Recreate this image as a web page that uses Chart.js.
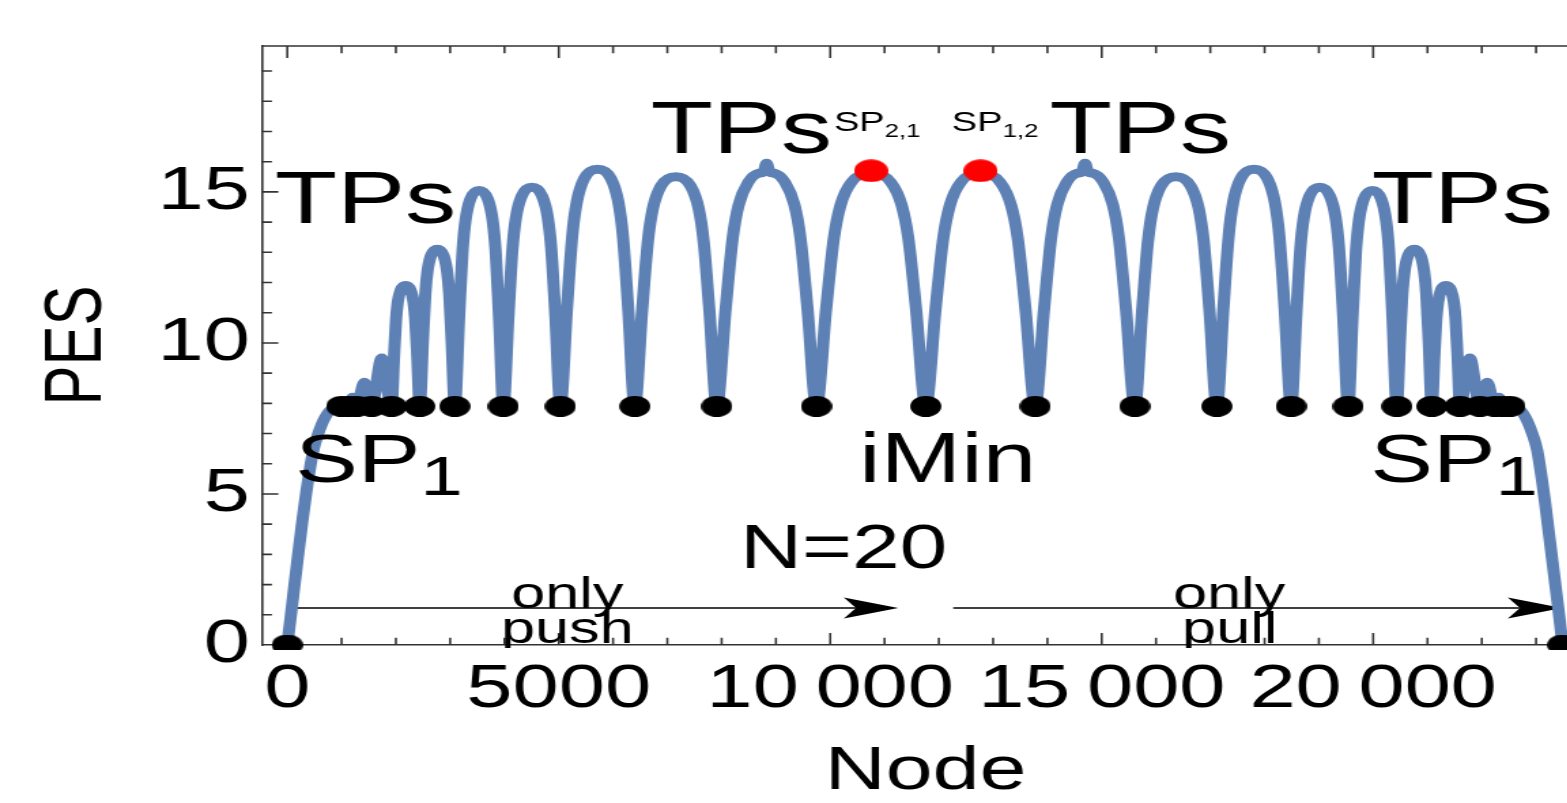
<!DOCTYPE html>
<html>
<head>
<meta charset="utf-8">
<script src="https://cdn.jsdelivr.net/npm/chart.js@4.4.1/dist/chart.umd.min.js"></script>
<style>
  html, body { margin: 0; padding: 0; background: #fff; overflow: hidden; }
  #wrap { width: 1567px; height: 803px; overflow: hidden; position: relative; }
</style>
</head>
<body>
<!-- drawn narrow, shown wide: the original figure is stretched horizontally,
     and its right frame edge is cut off, so the canvas runs past the window -->
<div id="wrap">
<canvas id="chart" width="1168" height="803" style="width:1589px;height:803px"></canvas>
</div>
<script>
const fontFamily = "'Liberation Sans', Arial, Helvetica, sans-serif";
const frameColor = "#333";

// PES along the path (node index, energy)
const curveNodes = [
  0, 330, 480, 570, 700, 850,
  1000, 1065, 1130, 1205, 1280, 1420, 1555, 1740,
  1920, 1967, 2003, 2034, 2086, 2180, 2274, 2326, 2357, 2393,
  2440, 2498, 2543, 2582, 2646, 2763, 2879, 2943, 2982, 3027,
  3085, 3166, 3228, 3282, 3371, 3533, 3694, 3783, 3837, 3899,
  3980, 4075, 4148, 4211, 4316, 4505, 4694, 4799, 4862, 4936,
  5030, 5153, 5249, 5331, 5468, 5715, 5962, 6099, 6181, 6277,
  6400, 6536, 6642, 6732, 6883, 7155, 7427, 7578, 7668, 7774,
  7910, 8075, 8204, 8314, 8497, 8681, 8773, 8828, 8883, 8974, 9158, 9341, 9451, 9580,
  9745, 9926, 10067, 10188, 10390, 10753, 11115, 11317, 11438, 11579,
  11760, 11941, 12082, 12203, 12405, 12768, 13130, 13332, 13453, 13594,
  13775, 13940, 14069, 14179, 14362, 14546, 14638, 14693, 14748, 14839, 15023, 15206, 15316, 15445,
  15610, 15746, 15852, 15942, 16093, 16365, 16637, 16788, 16878, 16984,
  17120, 17243, 17339, 17421, 17558, 17805, 18052, 18189, 18271, 18367,
  18490, 18585, 18658, 18721, 18826, 19015, 19204, 19309, 19372, 19446,
  19540, 19621, 19683, 19737, 19826, 19988, 20149, 20238, 20292, 20354,
  20435, 20493, 20538, 20577, 20641, 20758, 20874, 20938, 20977, 21022,
  21080, 21127, 21163, 21194, 21246, 21340, 21434, 21486, 21517, 21553,
  21600, 21780, 21965, 22100, 22240, 22315, 22390, 22455,
  22520, 22660, 22800, 22930, 23020, 23160, 23490
];
const curvePES = [
  0, 4.8, 6.45, 7.0, 7.55, 7.85,
  7.9, 8.0, 7.9, 8.2, 7.9, 8.7, 7.9, 9.5,
  7.9, 9.58, 10.78, 11.34, 11.74, 11.9, 11.74, 11.34, 10.78, 9.58,
  7.9, 10.08, 11.64, 12.37, 12.89, 13.1, 12.89, 12.37, 11.64, 10.08,
  7.9, 10.9, 13.05, 14.05, 14.76, 15.05, 14.76, 14.05, 13.05, 10.9,
  7.9, 10.95, 13.12, 14.14, 14.86, 15.15, 14.86, 14.14, 13.12, 10.95,
  7.9, 11.2, 13.55, 14.65, 15.44, 15.75, 15.44, 14.65, 13.55, 11.2,
  7.9, 11.09, 13.37, 14.44, 15.2, 15.5, 15.2, 14.44, 13.37, 11.09,
  7.9, 11.16, 13.48, 14.57, 15.34, 15.62, 15.66, 15.95, 15.66, 15.62, 15.34, 14.57, 13.48, 11.16,
  7.9, 11.15, 13.47, 14.55, 15.32, 15.63, 15.32, 14.55, 13.47, 11.15,
  7.9, 11.15, 13.47, 14.55, 15.32, 15.63, 15.32, 14.55, 13.47, 11.15,
  7.9, 11.16, 13.48, 14.57, 15.34, 15.62, 15.66, 15.95, 15.66, 15.62, 15.34, 14.57, 13.48, 11.16,
  7.9, 11.09, 13.37, 14.44, 15.2, 15.5, 15.2, 14.44, 13.37, 11.09,
  7.9, 11.2, 13.55, 14.65, 15.44, 15.75, 15.44, 14.65, 13.55, 11.2,
  7.9, 10.95, 13.12, 14.14, 14.86, 15.15, 14.86, 14.14, 13.12, 10.95,
  7.9, 10.9, 13.05, 14.05, 14.76, 15.05, 14.76, 14.05, 13.05, 10.9,
  7.9, 10.08, 11.64, 12.37, 12.89, 13.1, 12.89, 12.37, 11.64, 10.08,
  7.9, 9.58, 10.78, 11.34, 11.74, 11.9, 11.74, 11.34, 10.78, 9.58,
  7.9, 9.5, 7.9, 8.7, 7.9, 8.2, 7.9, 8.0,
  7.9, 7.85, 7.55, 7.0, 6.45, 4.8, 0
];

// minima (black) and the two saddle points (red)
const minimumNodes = [0, 1000, 1130, 1280, 1555, 1920, 2440, 3085, 3980, 5030, 6400, 7910, 9745,
  11760, 13775, 15610, 17120, 18490, 19540, 20435, 21080, 21600, 21965, 22240, 22390, 22520, 23490];
const minimumPES = [0, 7.9, 7.9, 7.9, 7.9, 7.9, 7.9, 7.9, 7.9, 7.9, 7.9, 7.9, 7.9,
  7.9, 7.9, 7.9, 7.9, 7.9, 7.9, 7.9, 7.9, 7.9, 7.9, 7.9, 7.9, 7.9, 0];
const saddleNodes = [10753, 12768];
const saddlePES = [15.7, 15.7];

const xTickValues = [0, 5000, 10000, 15000, 20000];
const xTickLabels = ["0", "5000", "10\u2009000", "15\u2009000", "20\u2009000"];
const yTickValues = [0, 5, 10, 15];

// text placed in data coordinates
const labels = [
  { text: "TPs", node: 1440, pes: 13.97, size: 75, align: "center" },
  { text: "TPs", node: 8360, pes: 16.29, size: 75, align: "center" },
  { text: "TPs", node: 15710, pes: 16.29, size: 75, align: "center" },
  { text: "TPs", node: 21640, pes: 13.97, size: 75, align: "center" },
  { text: "SP", sub: "2,1", node: 10066, pes: 17.0, size: 28, subSize: 19, drop: 6, align: "left" },
  { text: "SP", sub: "1,2", node: 12239, pes: 17.0, size: 28, subSize: 19, drop: 6, align: "left" },
  { text: "SP", sub: "1", node: 147, pes: 5.4, size: 69, subSize: 56, drop: 13, align: "left" },
  { text: "SP", sub: "1", node: 19945, pes: 5.4, size: 69, subSize: 56, drop: 13, align: "left" },
  { text: "iMin", node: 12164, pes: 5.38, size: 71, align: "center" },
  { text: "N=20", node: 10249, pes: 2.55, size: 63, align: "center" },
  { text: "only", node: 5157, pes: 1.225, size: 45, align: "center" },
  { text: "push", node: 5157, pes: 0.066, size: 45, align: "center", clip: true },
  { text: "only", node: 17348, pes: 1.225, size: 45, align: "center" },
  { text: "pull", node: 17357, pes: 0.066, size: 45, align: "center", clip: true }
];
const arrows = [
  { from: 37, to: 11252, at: 1.225 },
  { from: 12265, to: 23481, at: 1.225 }
];

const toPoints = (xs, ys) => xs.map((v, i) => ({ x: v, y: ys[i] }));

// the dots in the figure are slightly wider than the stretch alone gives
function ellipseMark(rx, ry, color) {
  const c = document.createElement("canvas");
  c.width = Math.ceil(rx * 2);
  c.height = Math.ceil(ry * 2);
  const g = c.getContext("2d");
  g.fillStyle = color;
  g.beginPath();
  g.ellipse(c.width / 2, c.height / 2, rx, ry, 0, 0, Math.PI * 2);
  g.fill();
  return c;
}

const decorations = {
  id: "decorations",
  beforeDatasetsDraw(chart) {
    const { ctx, chartArea: a, scales: { x, y } } = chart;
    ctx.save();
    ctx.strokeStyle = frameColor;
    ctx.lineWidth = 1.6;
    ctx.beginPath();
    ctx.moveTo(a.left, a.top);
    ctx.lineTo(a.right, a.top);
    for (let v = 0; v <= x.max; v += 1000) {
      const px = x.getPixelForValue(v);
      const len = v % 5000 === 0 ? 12 : 7.3;
      ctx.moveTo(px, a.bottom);
      ctx.lineTo(px, a.bottom - len);
      ctx.moveTo(px, a.top);
      ctx.lineTo(px, a.top + len);
    }
    for (let v = 1; v <= y.max; v += 1) {
      const py = y.getPixelForValue(v);
      const len = v % 5 === 0 ? 12 : 7.3;
      ctx.moveTo(a.left, py);
      ctx.lineTo(a.left + len, py);
    }
    ctx.stroke();

    // arrows
    ctx.strokeStyle = "#000";
    ctx.fillStyle = "#000";
    ctx.lineWidth = 1.6;
    arrows.forEach(ar => {
      const x0 = x.getPixelForValue(ar.from);
      const x1 = x.getPixelForValue(ar.to);
      const yy = y.getPixelForValue(ar.at);
      const L = 40, h = 10.5, notch = 9;
      ctx.beginPath();
      ctx.moveTo(x0, yy);
      ctx.lineTo(x1 - L + notch, yy);
      ctx.stroke();
      ctx.beginPath();
      ctx.moveTo(x1, yy);
      ctx.lineTo(x1 - L, yy - h);
      ctx.lineTo(x1 - L + notch, yy);
      ctx.lineTo(x1 - L, yy + h);
      ctx.closePath();
      ctx.fill();
    });
    ctx.restore();
  },
  afterDatasetsDraw(chart) {
    const { ctx, chartArea: a, scales: { x, y } } = chart;
    ctx.save();
    ctx.fillStyle = "#000";
    ctx.textBaseline = "alphabetic";
    labels.forEach(l => {
      ctx.save();
      if (l.clip) {
        ctx.beginPath();
        ctx.rect(a.left, a.top, a.right - a.left, a.bottom - a.top + 3);
        ctx.clip();
      }
      const px = x.getPixelForValue(l.node);
      const py = y.getPixelForValue(l.pes);
      ctx.font = l.size + "px " + fontFamily;
      ctx.textAlign = l.align;
      ctx.fillText(l.text, px, py);
      if (l.sub) {
        const w = ctx.measureText(l.text).width;
        ctx.font = l.subSize + "px " + fontFamily;
        ctx.textAlign = "left";
        ctx.fillText(l.sub, px + w, py + l.drop);
      }
      ctx.restore();
    });
    ctx.restore();
  }
};

Chart.defaults.font.family = fontFamily;
Chart.defaults.color = "#000";

const ctx = document.getElementById("chart").getContext("2d");

const chart = new Chart(ctx, {
  type: "scatter",
  data: {
    datasets: [
      {
        label: "saddle points",
        data: toPoints(saddleNodes, saddlePES),
        pointRadius: 11,
        pointStyle: ellipseMark(12.5, 11.2, "#ff0000"),
        order: 1
      },
      {
        label: "minima",
        data: toPoints(minimumNodes, minimumPES),
        pointRadius: 10,
        pointStyle: ellipseMark(11.4, 10.5, "#000000"),
        clip: { left: 0, top: 0, right: 0, bottom: 5 },
        order: 2
      },
      {
        label: "PES",
        data: toPoints(curveNodes, curvePES),
        showLine: true,
        borderColor: "#5e81b5",
        borderWidth: 9,
        pointRadius: 0,
        cubicInterpolationMode: "monotone",
        borderJoinStyle: "round",
        clip: { left: 2, top: 0, right: 0, bottom: 3 },
        order: 3
      }
    ]
  },
  options: {
    responsive: false,
    devicePixelRatio: 1,
    animation: false,
    layout: {
      autoPadding: false,
      padding: { left: 0, top: 46, right: 0, bottom: 0 }
    },
    plugins: {
      legend: { display: false },
      tooltip: { enabled: false }
    },
    scales: {
      x: {
        type: "linear",
        min: -465,
        max: 23975,
        grid: { display: false, drawTicks: false },
        border: { display: true, color: frameColor, width: 1.6 },
        afterBuildTicks: (s) => { s.ticks = xTickValues.map(v => ({ value: v })); },
        afterFit: (s) => {
          s.height = 158;
          s.paddingLeft = 0;
          s.paddingRight = 0;
        },
        ticks: {
          autoSkip: false,
          maxRotation: 0,
          padding: 9,
          font: { size: 61 },
          callback: (v, i) => xTickLabels[i]
        },
        title: {
          display: true,
          text: "Node",
          font: { size: 62, lineHeight: 1 },
          padding: { top: 0, bottom: 0 }
        }
      },
      y: {
        type: "linear",
        min: 0,
        max: 19.83,
        grid: { display: false, drawTicks: false },
        border: { display: true, color: frameColor, width: 1.6 },
        afterBuildTicks: (s) => { s.ticks = yTickValues.map(v => ({ value: v })); },
        afterFit: (s) => {
          s.width = 192.6;
          s.paddingLeft = 0;
          s.paddingRight = 0;
        },
        ticks: {
          padding: 9,
          font: { size: 61 },
          callback: (v) => String(v)
        },
        title: {
          display: true,
          text: "PES",
          font: { size: 60 },
          padding: { top: 21, bottom: 0 }
        }
      }
    }
  },
  plugins: [decorations]
});
</script>
</body>
</html>
